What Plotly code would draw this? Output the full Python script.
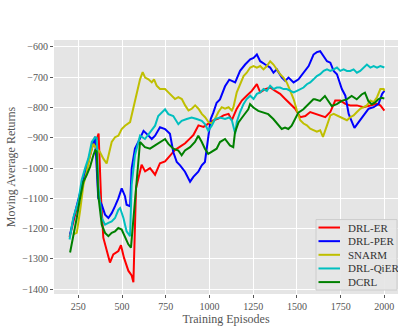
import plotly.graph_objects as go

# ---- data ----
er_x = [200, 225, 250, 275, 300, 330, 355, 366, 380, 393, 431, 450, 479, 494, 511, 536, 555, 565, 580,
        612, 632, 660, 689, 717, 746, 775, 803, 832, 861, 889, 908, 937, 966, 994, 1023, 1051, 1080, 1109,
        1128, 1156, 1185, 1213, 1242, 1271, 1290, 1319, 1347, 1376, 1404, 1433, 1462, 1490, 1519, 1548,
        1576, 1605, 1633, 1662, 1691, 1719, 1748, 1777, 1805, 1843, 1881, 1920, 1958, 1977, 2000]
er_y = [-1228, -1170, -1115, -1050, -990, -930, -905, -886, -1100, -1230, -1312, -1285, -1274, -1255, -1296,
        -1339, -1355, -1377, -1067, -989, -1011, -1000, -1022, -984, -978, -957, -940, -929, -918, -902,
        -891, -859, -864, -853, -842, -837, -826, -821, -842, -804, -777, -761, -745, -723, -750, -739,
        -734, -745, -755, -772, -788, -804, -832, -828, -815, -821, -828, -832, -815, -777, -777, -788,
        -793, -793, -799, -793, -788, -793, -810]

per_x = [203, 225, 250, 275, 300, 325, 346, 364, 384, 403, 422, 441, 460, 479, 498, 517, 526, 546, 555,
         574, 593, 623, 641, 670, 689, 707, 717, 746, 774, 793, 813, 832, 860, 889, 908, 936, 956, 974,
         993, 1007, 1022, 1041, 1060, 1089, 1113, 1147, 1175, 1204, 1233, 1252, 1271, 1290, 1319, 1347,
         1366, 1385, 1414, 1433, 1452, 1481, 1509, 1538, 1567, 1595, 1614, 1633, 1653, 1672, 1691, 1710,
         1729, 1757, 1777, 1796, 1815, 1829, 1853, 1881, 1910, 1939, 1967, 1987, 2000]
per_y = [-1219, -1160, -1105, -1045, -995, -935, -897, -1100, -1121, -1154, -1165, -1149, -1126, -1100,
         -1067, -1093, -1121, -1126, -1002, -936, -914, -877, -887, -904, -893, -877, -865, -871, -887,
         -947, -980, -991, -1012, -1045, -1029, -1012, -991, -980, -904, -838, -817, -784, -773, -730,
         -708, -717, -679, -658, -641, -636, -625, -647, -658, -668, -685, -674, -701, -712, -701, -717,
         -707, -685, -663, -625, -617, -614, -630, -647, -652, -679, -690, -739, -761, -821, -848, -867,
         -848, -826, -804, -799, -788, -755, -745]

snarm_x = [221, 241, 260, 279, 298, 317, 336, 355, 374, 393, 412, 422, 441, 460, 479, 498, 517, 546, 565,
           584, 603, 618, 632, 651, 670, 683, 698, 717, 746, 765, 784, 803, 822, 842, 861, 880, 899, 918,
           937, 956, 975, 994, 1013, 1032, 1051, 1070, 1089, 1109, 1128, 1137, 1156, 1175, 1195, 1213,
           1233, 1252, 1271, 1290, 1309, 1328, 1347, 1366, 1385, 1404, 1423, 1442, 1462, 1481, 1500, 1519,
           1538, 1557, 1576, 1595, 1614, 1633, 1649, 1672, 1691, 1710, 1729, 1748, 1767, 1786, 1805, 1824,
           1843, 1862, 1881, 1900, 1920, 1939, 1958, 1977, 1996, 2000]
snarm_y = [-1219, -1214, -1142, -1056, -1012, -958, -920, -936, -947, -969, -985, -958, -914, -898, -893,
           -871, -860, -848, -804, -750, -707, -683, -701, -707, -717, -707, -728, -739, -739, -750, -761,
           -772, -766, -772, -793, -810, -804, -793, -804, -821, -832, -848, -853, -837, -815, -799, -804,
           -799, -810, -799, -750, -723, -696, -685, -668, -663, -668, -663, -674, -663, -647, -658, -674,
           -690, -701, -717, -745, -772, -810, -842, -853, -859, -870, -875, -880, -875, -897, -859, -826,
           -821, -826, -832, -837, -842, -832, -826, -815, -804, -799, -793, -777, -782, -766, -739, -739,
           -745]

qier_x = [200, 221, 250, 269, 288, 307, 327, 346, 355, 364, 384, 403, 422, 441, 460, 479, 489, 508, 526,
          546, 555, 574, 603, 631, 660, 689, 707, 727, 746, 765, 793, 822, 841, 870, 898, 927, 956, 974,
          993, 1013, 1032, 1060, 1089, 1113, 1128, 1147, 1156, 1175, 1195, 1213, 1233, 1252, 1271, 1290,
          1309, 1328, 1347, 1366, 1385, 1404, 1423, 1442, 1462, 1481, 1500, 1519, 1538, 1557, 1576, 1595,
          1614, 1633, 1653, 1672, 1691, 1710, 1729, 1748, 1767, 1786, 1805, 1824, 1843, 1862, 1881, 1900,
          1920, 1939, 1958, 1977, 2000]
qier_y = [-1236, -1165, -1110, -1040, -1002, -969, -914, -898, -900, -1056, -1165, -1187, -1181, -1176,
          -1165, -1138, -1132, -1165, -1209, -1225, -1056, -958, -893, -904, -882, -860, -828, -817, -806,
          -822, -828, -855, -844, -838, -833, -838, -844, -855, -877, -860, -838, -833, -838, -833, -842,
          -886, -848, -815, -788, -772, -761, -772, -755, -750, -739, -745, -728, -739, -734, -734, -739,
          -739, -745, -750, -745, -739, -734, -723, -717, -707, -696, -690, -679, -674, -679, -674, -668,
          -679, -674, -679, -679, -674, -685, -679, -668, -658, -668, -663, -668, -663, -668]

dcrl_x = [203, 221, 241, 260, 279, 298, 317, 336, 346, 355, 364, 384, 403, 422, 441, 460, 479, 498, 517,
          536, 551, 565, 584, 603, 631, 660, 689, 717, 746, 765, 793, 822, 841, 860, 889, 917, 936, 956,
          974, 993, 1013, 1041, 1060, 1089, 1117, 1136, 1146, 1166, 1193, 1222, 1232, 1251, 1279, 1308,
          1336, 1365, 1394, 1413, 1432, 1451, 1470, 1489, 1508, 1537, 1565, 1594, 1603, 1632, 1660, 1680,
          1699, 1728, 1756, 1785, 1813, 1842, 1870, 1889, 1908, 1927, 1946, 1965, 1984, 2000]
dcrl_y = [-1279, -1230, -1165, -1100, -1045, -1023, -996, -958, -942, -945, -1089, -1187, -1214, -1225,
          -1214, -1209, -1198, -1203, -1230, -1252, -1263, -1176, -1056, -914, -931, -936, -925, -914, -904,
          -920, -936, -942, -958, -942, -931, -914, -893, -914, -936, -953, -947, -936, -914, -904, -925,
          -931, -882, -849, -828, -806, -789, -800, -811, -817, -822, -838, -860, -871, -866, -871, -860,
          -838, -817, -806, -789, -773, -773, -778, -762, -778, -795, -789, -778, -773, -762, -773, -757,
          -751, -778, -789, -784, -773, -768, -770]

series_names = ["DRL-ER", "DRL-PER", "SNARM", "DRL-QiER", "DCRL"]
series_colors = ["#FF0000", "#0000FF", "#BFBF00", "#00BFBF", "#008000"]

x_tickvals = [250, 500, 750, 1000, 1250, 1500, 1750, 2000]
y_tickvals = [-600, -700, -800, -900, -1000, -1100, -1200, -1300, -1400]
y_ticktext = ["\u2212600", "\u2212700", "\u2212800", "\u2212900", "\u22121000",
              "\u22121100", "\u22121200", "\u22121300", "\u22121400"]

xs = [er_x, per_x, snarm_x, qier_x, dcrl_x]
ys = [er_y, per_y, snarm_y, qier_y, dcrl_y]

W, H = 398, 326
ML, MR, MT, MB = 54, 0, 40, 30
PW, PH = W - ML - MR, H - MT - MB


def px_x(p):
    return (p - ML) / PW


def px_y(p):
    return (H - MB - p) / PH


fig = go.Figure()
for name, col, x, y in zip(series_names, series_colors, xs, ys):
    fig.add_trace(go.Scatter(x=x, y=y, mode="lines", name=name, showlegend=False,
                             line=dict(color=col, width=2)))

font_family = "Liberation Serif, Times New Roman, serif"

# custom legend (matplotlib-like compact box)
shapes = [dict(type="rect", xref="paper", yref="paper",
               x0=px_x(316), x1=px_x(397), y0=px_y(292), y1=px_y(221),
               fillcolor="rgba(229,229,229,0.9)", line=dict(color="#CCCCCC", width=1), layer="above")]
annotations = []
for i, (name, col) in enumerate(zip(series_names, series_colors)):
    yc = 229 + i * 13.75
    shapes.append(dict(type="line", xref="paper", yref="paper",
                       x0=px_x(318.5), x1=px_x(340), y0=px_y(yc), y1=px_y(yc),
                       line=dict(color=col, width=2), layer="above"))
    annotations.append(dict(xref="paper", yref="paper", x=px_x(346), y=px_y(yc),
                            text=name, showarrow=False, xanchor="left", yanchor="middle",
                            font=dict(family=font_family, size=11, color="#333333")))

fig.update_layout(
    width=W, height=H,
    margin=dict(l=ML, r=MR, t=MT, b=MB),
    paper_bgcolor="white",
    plot_bgcolor="#E5E5E5",
    font=dict(family=font_family, size=11, color="#555555"),
    showlegend=False,
    shapes=shapes,
    annotations=annotations,
    xaxis=dict(range=[111, 2078], tickvals=x_tickvals, showgrid=True, gridcolor="white",
               gridwidth=1, zeroline=False, ticks="outside", ticklen=3, tickcolor="#555555",
               tickfont=dict(size=10, color="#555555"), ticklabelstandoff=0,
               title=dict(text="Training Episodes", font=dict(size=12, color="#555555"), standoff=6)),
    yaxis=dict(range=[-1416, -577], tickvals=y_tickvals, ticktext=y_ticktext, showgrid=True,
               gridcolor="white", gridwidth=1, zeroline=False, ticks="outside", ticklen=3,
               tickcolor="#555555", tickfont=dict(size=10, color="#555555"),
               title=dict(text="Moving Average Returns", font=dict(size=12, color="#555555"), standoff=4)),
)

fig.write_html("out.html", config={"displayModeBar": False},
               post_script="document.body.style.margin='0';document.body.style.overflow='hidden';")
